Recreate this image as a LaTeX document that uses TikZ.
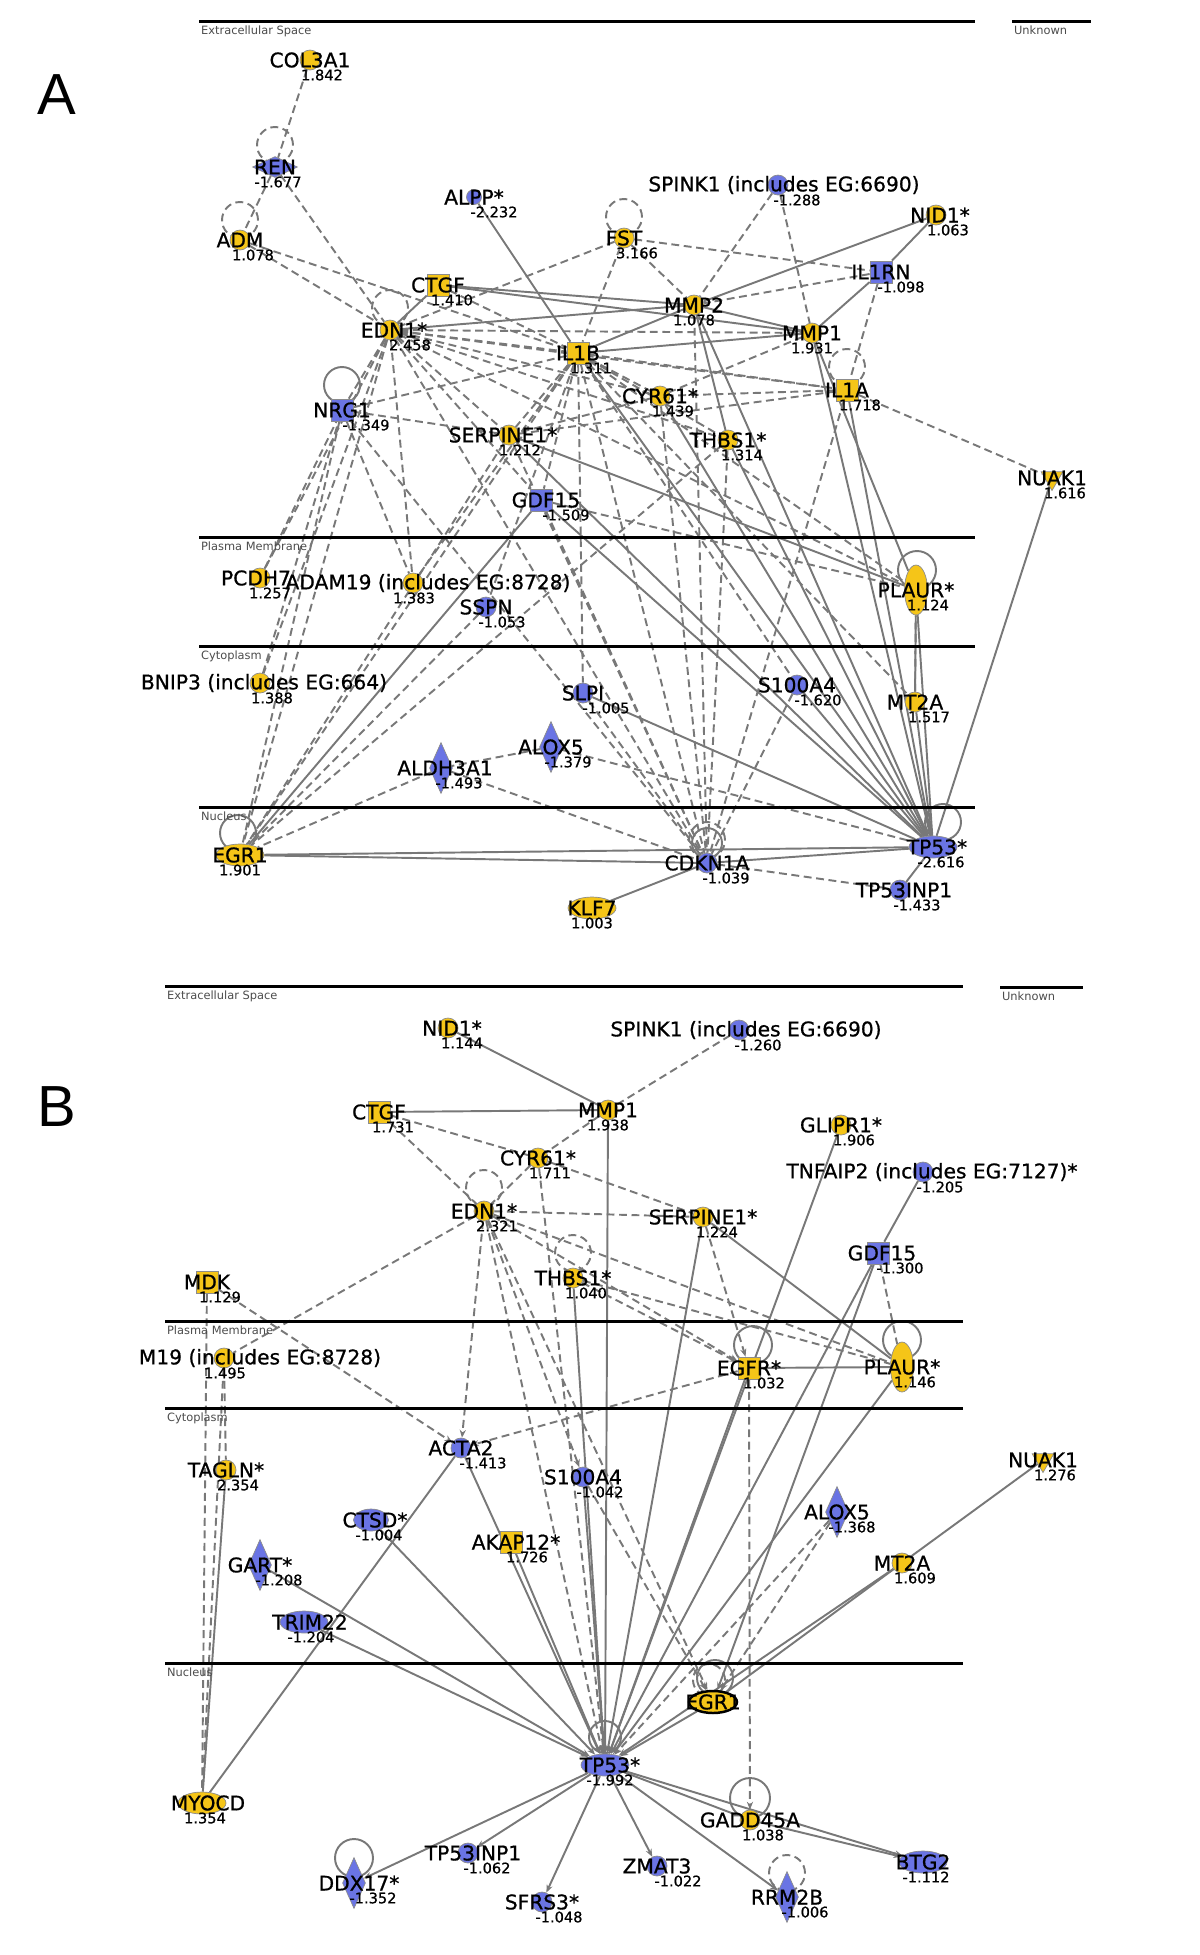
\documentclass[tikz,border=0pt]{standalone}
\usepackage{fontspec}
\setmainfont{DejaVu Sans}
\newfontfamily\genefont{DejaVu Sans}[FakeBold=0.8]
\newfontfamily\letterfont{Liberation Sans}
\usetikzlibrary{arrows.meta,shapes.geometric,backgrounds}
\definecolor{upreg}{RGB}{245,197,24}
\definecolor{downreg}{RGB}{106,116,228}
\definecolor{linkgray}{RGB}{120,120,120}

\begin{document}
\begin{tikzpicture}[x=0.02cm,y=-0.02cm,>={Stealth[length=4.5pt,width=3.5pt]},
  gene/.style={draw=black!45,line width=0.4pt,inner sep=0pt},
  up/.style={gene,fill=upreg},
  dn/.style={gene,fill=downreg},
  circ/.style={circle,minimum size=4mm},
  sm/.style={circle,minimum size=3mm},
  sq/.style={rectangle,minimum size=4.4mm},
  ellh/.style={ellipse,minimum width=9.6mm,minimum height=4.4mm},
  ellv/.style={ellipse,minimum width=4.6mm,minimum height=10mm},
  dmv/.style={diamond,minimum width=4.6mm,minimum height=10.2mm},
  dmh/.style={diamond,minimum width=9mm,minimum height=4.2mm},
  tri/.style={regular polygon,regular polygon sides=3,shape border rotate=180,minimum size=5mm},
  lbl/.style={font=\genefont\fontsize{11.5}{12}\selectfont,inner sep=0pt},
  val/.style={font=\genefont\fontsize{8.3}{9}\selectfont,inner sep=0pt},
  nl/.style={label={[lbl]center:#1}},
  nlx/.style 2 args={label={[lbl,xshift=#2*0.2mm]center:#1}},
  nv/.style 2 args={label={[val,xshift=#2*0.2mm,yshift=-3mm]center:#1}},
  lnk/.style={draw=linkgray,line width=1.1pt},
  ind/.style={lnk,dash pattern=on 4.5pt off 2.6pt},
  mem/.style={line width=1.7pt},
  comp/.style={font=\fontsize{6.5}{7}\selectfont,text=black!70,anchor=north west,inner sep=1pt},
  panel/.style={font=\letterfont\fontsize{33}{35}\selectfont}]
  \useasboundingbox (0,0) rectangle (1200,1955);

  % compartments, panel A
  \draw[mem] (199,21) -- (975,21);
  \draw[mem] (1012,21) -- (1091,21);
  \draw[mem] (199,537) -- (975,537);
  \draw[mem] (199,646) -- (975,646);
  \draw[mem] (199,807) -- (975,807);
  \node[comp] (aExtra) at (199,24) {Extracellular Space};
  \node[comp] (aUnknown) at (1012,24) {Unknown};
  \node[comp] (aPlasma) at (199,540) {Plasma Membrane};
  \node[comp] (aCyto) at (199,649) {Cytoplasm};
  \node[comp] (aNucl) at (199,810) {Nucleus};
  \node[panel] (pA) at (57,95) {A};

  % compartments, panel B
  \draw[mem] (165,986) -- (963,986);
  \draw[mem] (1000,987) -- (1083,987);
  \draw[mem] (165,1321) -- (963,1321);
  \draw[mem] (165,1408) -- (963,1408);
  \draw[mem] (165,1663) -- (963,1663);
  \node[comp] (bExtra) at (165,989) {Extracellular Space};
  \node[comp] (bUnknown) at (1000,990) {Unknown};
  \node[comp] (bPlasma) at (165,1324) {Plasma Membrane};
  \node[comp] (bCyto) at (165,1411) {Cytoplasm};
  \node[comp] (bNucl) at (165,1666) {Nucleus};
  \node[panel] (pB) at (57,1107) {B};

  % genes, panel A
  \node[up,circ,nl=COL3A1,nv={1.842}{12}] (aCOL3A1) at (310,60) {};
  \node[dn,dmh,nl=REN,nv={-1.677}{3}] (aREN) at (275,167) {};
  \node[dn,sm,nl=ALPP*,nv={-2.232}{20}] (aALPP) at (474,197) {};
  \node[dn,circ,nlx={SPINK1 (includes EG:6690)}{6},nv={-1.288}{19}] (aSPINK1) at (778,185) {};
  \node[up,circ,nlx={NID1*}{4},nv={1.063}{12}] (aNID1) at (936,215) {};
  \node[up,circ,nl=ADM,nv={1.078}{13}] (aADM) at (240,240) {};
  \node[up,circ,nl=FST,nv={3.166}{13}] (aFST) at (624,238) {};
  \node[up,sq,nl=CTGF,nv={1.410}{14}] (aCTGF) at (438,285) {};
  \node[up,circ,nlx={EDN1*}{4},nv={2.458}{20}] (aEDN1) at (390,330) {};
  \node[up,circ,nl=MMP2,nv={1.078}{0}] (aMMP2) at (694,305) {};
  \node[dn,sq,nl=IL1RN,nv={-1.098}{20}] (aIL1RN) at (881,272) {};
  \node[up,circ,nl=MMP1,nv={1.931}{0}] (aMMP1) at (812,333) {};
  \node[up,sq,nl=IL1B,nv={1.311}{13}] (aIL1B) at (578,353) {};
  \node[up,circ,nl=CYR61*,nv={1.439}{13}] (aCYR61) at (660,396) {};
  \node[up,sq,nl=IL1A,nv={1.718}{13}] (aIL1A) at (847,390) {};
  \node[dn,sq,nl=NRG1,nv={-1.349}{24}] (aNRG1) at (342,410) {};
  \node[up,circ,nlx={SERPINE1*}{-6},nv={1.212}{11}] (aSERPINE1) at (509,435) {};
  \node[up,circ,nl=THBS1*,nv={1.314}{14}] (aTHBS1) at (728,440) {};
  \node[up,tri,nl=NUAK1,nv={1.616}{13}] (aNUAK1) at (1052,478) {};
  \node[dn,sq,nlx={GDF15}{5},nv={-1.509}{25}] (aGDF15) at (541,500) {};
  \node[up,circ,nlx={PCDH7}{-4},nv={1.257}{10}] (aPCDH7) at (260,578) {};
  \node[up,circ,nlx={ADAM19 (includes EG:8728)}{15},nv={1.383}{1}] (aADAM19) at (413,583) {};
  \node[dn,circ,nl=SSPN,nv={-1.053}{16}] (aSSPN) at (486,607) {};
  \node[up,ellv,nl=PLAUR*,nv={1.124}{12}] (aPLAUR) at (916,590) {};
  \node[up,circ,nlx={BNIP3 (includes EG:664)}{4},nv={1.388}{12}] (aBNIP3) at (260,683) {};
  \node[dn,circ,nl=SLPI,nv={-1.005}{23}] (aSLPI) at (583,693) {};
  \node[dn,circ,nl=S100A4,nv={-1.620}{21}] (aS100A4) at (797,685) {};
  \node[up,circ,nl=MT2A,nv={1.517}{14}] (aMT2A) at (915,702) {};
  \node[dn,dmv,nl=ALOX5,nv={-1.379}{17}] (aALOX5) at (551,747) {};
  \node[dn,dmv,nlx={ALDH3A1}{4},nv={-1.493}{18}] (aALDH3A1) at (441,768) {};
  \node[up,ellh,nl=EGR1,nv={1.901}{0}] (aEGR1) at (240,855) {};
  \node[dn,circ,nl=CDKN1A,nv={-1.039}{19}] (aCDKN1A) at (707,863) {};
  \node[dn,ellh,nlx={TP53*}{4},nv={-2.616}{8}] (aTP53) at (933,847) {};
  \node[dn,circ,nlx={TP53INP1}{4},nv={-1.433}{17}] (aTP53INP1) at (900,890) {};
  \node[up,ellh,nl=KLF7,nv={1.003}{0}] (aKLF7) at (592,908) {};

  % genes, panel B
  \node[up,circ,nlx={NID1*}{4},nv={1.144}{14}] (bNID1) at (448,1028) {};
  \node[dn,circ,nlx={SPINK1 (includes EG:6690)}{7},nv={-1.260}{19}] (bSPINK1) at (739,1030) {};
  \node[up,sq,nl=CTGF,nv={1.731}{14}] (bCTGF) at (379,1112) {};
  \node[up,circ,nl=MMP1,nv={1.938}{0}] (bMMP1) at (608,1110) {};
  \node[up,circ,nl=GLIPR1*,nv={1.906}{13}] (bGLIPR1) at (841,1125) {};
  \node[up,circ,nl=CYR61*,nv={1.711}{12}] (bCYR61) at (538,1158) {};
  \node[dn,circ,nlx={TNFAIP2 (includes EG:7127)*}{9},nv={-1.205}{17}] (bTNFAIP2) at (923,1172) {};
  \node[up,circ,nl=EDN1*,nv={2.321}{13}] (bEDN1) at (484,1211) {};
  \node[up,circ,nl=SERPINE1*,nv={1.224}{14}] (bSERPINE1) at (703,1217) {};
  \node[dn,sq,nlx={GDF15}{4},nv={-1.300}{22}] (bGDF15) at (878,1253) {};
  \node[up,sq,nl=MDK,nv={1.129}{13}] (bMDK) at (207,1282) {};
  \node[up,circ,nl=THBS1*,nv={1.040}{13}] (bTHBS1) at (573,1278) {};
  \node[up,circ,nlx={M19 (includes EG:8728)}{36},nv={1.495}{1}] (bADAM19) at (224,1358) {};
  \node[up,sq,nl=EGFR*,nv={1.032}{15}] (bEGFR) at (749,1368) {};
  \node[up,ellv,nl=PLAUR*,nv={1.146}{13}] (bPLAUR) at (902,1367) {};
  \node[dn,circ,nl=ACTA2,nv={-1.413}{22}] (bACTA2) at (461,1448) {};
  \node[up,circ,nl=TAGLN*,nv={2.354}{12}] (bTAGLN) at (226,1470) {};
  \node[dn,circ,nl=S100A4,nv={-1.042}{17}] (bS100A4) at (583,1477) {};
  \node[up,tri,nl=NUAK1,nv={1.276}{12}] (bNUAK1) at (1043,1460) {};
  \node[dn,dmv,nl=ALOX5,nv={-1.368}{15}] (bALOX5) at (837,1512) {};
  \node[dn,ellipse,minimum width=7mm,minimum height=4.4mm,nlx={CTSD*}{4},nv={-1.004}{8}] (bCTSD) at (371,1520) {};
  \node[up,sq,nlx={AKAP12*}{5},nv={1.726}{16}] (bAKAP12) at (511,1542) {};
  \node[dn,dmv,nl=GART*,nv={-1.208}{19}] (bGART) at (260,1565) {};
  \node[up,circ,nl=MT2A,nv={1.609}{13}] (bMT2A) at (902,1563) {};
  \node[dn,ellh,nlx={TRIM22}{6},nv={-1.204}{7}] (bTRIM22) at (304,1622) {};
  \node[up,ellh,draw=black,line width=1.4pt,nl=EGR1] (bEGR1) at (713,1702) {};
  \node[dn,ellh,nlx={TP53*}{5},nv={-1.992}{5}] (bTP53) at (605,1765) {};
  \node[up,ellh,nlx={MYOCD}{6},nv={1.354}{3}] (bMYOCD) at (202,1803) {};
  \node[up,circ,nl=GADD45A,nv={1.038}{13}] (bGADD45A) at (750,1820) {};
  \node[dn,circ,nlx={TP53INP1}{5},nv={-1.062}{19}] (bTP53INP1) at (468,1853) {};
  \node[dn,circ,nl=ZMAT3,nv={-1.022}{21}] (bZMAT3) at (657,1866) {};
  \node[dn,ellh,nl=BTG2,nv={-1.112}{3}] (bBTG2) at (923,1862) {};
  \node[dn,dmv,nlx={DDX17*}{5},nv={-1.352}{19}] (bDDX17) at (354,1883) {};
  \node[dn,dmv,nl=RRM2B,nv={-1.006}{18}] (bRRM2B) at (787,1897) {};
  \node[dn,circ,nl=SFRS3*,nv={-1.048}{17}] (bSFRS3) at (542,1902) {};

  \begin{scope}[on background layer]
  % panel A links
  \foreach \s/\t in {aCTGF/aEDN1,aCTGF/aMMP2,aCTGF/aMMP1,aEDN1/aMMP2,aALPP/aIL1B,aNID1/aMMP2,
      aNID1/aIL1RN,aIL1RN/aMMP1,aMMP2/aMMP1,aMMP2/aIL1B,aMMP1/aIL1B,aMMP2/aTP53,aMMP2/aTHBS1,
      aMMP1/aTP53,aIL1A/aTP53,aTHBS1/aTP53,aSERPINE1/aTP53,aSERPINE1/aPLAUR,aGDF15/aTP53,
      aGDF15/aEGR1,aIL1B/aTP53,aNUAK1/aTP53,aPLAUR/aTP53,aMT2A/aTP53,aPLAUR/aMT2A,aSLPI/aTP53,
      aS100A4/aTP53,aEGR1/aCDKN1A,aEGR1/aTP53,aCDKN1A/aTP53,aKLF7/aCDKN1A,aTP53/aTP53INP1,
      aMMP1/aPLAUR,aCYR61/aTP53}
    \draw[lnk] (\s) -- (\t);
  \foreach \s/\t in {aCOL3A1/aREN,aREN/aADM,aREN/aEDN1,aADM/aEDN1,aADM/aIL1B,aFST/aEDN1,
      aFST/aMMP2,aFST/aIL1B,aFST/aIL1RN,aSPINK1/aMMP2,aSPINK1/aMMP1,aIL1RN/aMMP2,aIL1RN/aIL1A,
      aCTGF/aIL1B,aEDN1/aIL1B,aEDN1/aMMP1,aEDN1/aIL1A,aEDN1/aCYR61,aEDN1/aTHBS1,aEDN1/aSERPINE1,
      aEDN1/aNRG1,aEDN1/aPCDH7,aEDN1/aBNIP3,aEDN1/aEGR1,aEDN1/aADAM19,aEDN1/aGDF15,aEDN1/aPLAUR,
      aEDN1/aCDKN1A,aIL1B/aIL1A,aIL1B/aCYR61,aIL1B/aTHBS1,aIL1B/aSERPINE1,aIL1B/aNRG1,
      aIL1B/aGDF15,aIL1B/aSSPN,aIL1B/aSLPI,aIL1B/aCDKN1A,aIL1B/aMT2A,aIL1B/aEGR1,aIL1B/aS100A4,
      aIL1B/aADAM19,aIL1A/aCYR61,aIL1A/aNUAK1,aIL1A/aCDKN1A,aIL1A/aSERPINE1,aMMP1/aCYR61,
      aCYR61/aCDKN1A,aCYR61/aSERPINE1,aTHBS1/aCDKN1A,aTHBS1/aEGR1,aSERPINE1/aEGR1,
      aSERPINE1/aCDKN1A,aNRG1/aEGR1,aNRG1/aADAM19,aNRG1/aCDKN1A,aNRG1/aSERPINE1,aGDF15/aCDKN1A,
      aGDF15/aPLAUR,aSLPI/aCDKN1A,aS100A4/aCDKN1A,aALOX5/aALDH3A1,aALOX5/aTP53,aALDH3A1/aEGR1,
      aALDH3A1/aCDKN1A,aCDKN1A/aTP53INP1,aMMP2/aCDKN1A,aPCDH7/aNRG1,aBNIP3/aNRG1,aSSPN/aEGR1,
      aMT2A/aPLAUR,aIL1B/aPLAUR}
    \draw[ind] (\s) -- (\t);
  \draw[ind] (aREN) ++(0,-22) circle[radius=3.6mm];
  \draw[ind] (aADM) ++(0,-20) circle[radius=3.6mm];
  \draw[ind] (aFST) ++(0,-21) circle[radius=3.6mm];
  \draw[ind] (aEDN1) ++(0,-22) circle[radius=3.6mm];
  \draw[ind] (aIL1A) ++(0,-23) circle[radius=3.6mm];
  \draw[lnk] (aNRG1) ++(0,-25) circle[radius=3.6mm];
  \draw[lnk] (aPLAUR) ++(1,-20) circle[radius=3.8mm];
  \draw[lnk] (aEGR1) ++(-2,-22) circle[radius=3.6mm];
  \draw[ind] (aCDKN1A) ++(0,-23) circle[radius=3.6mm];
  \draw[lnk] (aCDKN1A) ++(0,-20) circle[radius=3mm];
  \draw[lnk] (aTP53) ++(10,-25) circle[radius=3.6mm];

  % panel B links
  \foreach \s/\t in {bNID1/bMMP1,bCTGF/bMMP1,bTAGLN/bMYOCD,bACTA2/bMYOCD,bSERPINE1/bPLAUR,
      bTNFAIP2/bGDF15,bEGFR/bPLAUR,bNUAK1/bMT2A,bMT2A/bEGR1}
    \draw[lnk] (\s) -- (\t);
  \foreach \s/\t in {bMMP1/bTP53,bACTA2/bTP53,bAKAP12/bTP53,bS100A4/bTP53,bCTSD/bTP53,
      bGART/bTP53,bTRIM22/bTP53,bTHBS1/bTP53,bSERPINE1/bTP53,bGLIPR1/bTP53,bGDF15/bTP53,
      bEGFR/bTP53,bPLAUR/bTP53,bMT2A/bTP53,bEGR1/bTP53,bTP53/bGADD45A,bTP53/bBTG2,bTP53/bZMAT3,
      bTP53/bRRM2B,bTP53/bSFRS3,bTP53/bTP53INP1,bTP53/bDDX17,bGADD45A/bBTG2,bGDF15/bEGR1}
    \draw[lnk,->] (\s) -- (\t);
  \foreach \s/\t in {bSPINK1/bMMP1,bCTGF/bCYR61,bCTGF/bEDN1,bMMP1/bCYR61,bCYR61/bEDN1,
      bCYR61/bSERPINE1,bEDN1/bSERPINE1,bEDN1/bADAM19,bMDK/bMYOCD,bADAM19/bTAGLN,bADAM19/bMYOCD,
      bGDF15/bPLAUR,bEDN1/bPLAUR,bTHBS1/bPLAUR}
    \draw[ind] (\s) -- (\t);
  \foreach \s/\t in {bCYR61/bTP53,bEDN1/bTP53,bEDN1/bACTA2,bEDN1/bEGR1,bEDN1/bS100A4,
      bEDN1/bEGFR,bMDK/bACTA2,bTHBS1/bEGFR,bSERPINE1/bEGFR,bEGFR/bACTA2,bEGFR/bGADD45A,
      bALOX5/bEGR1,bALOX5/bTP53,bS100A4/bEGR1}
    \draw[ind,->] (\s) -- (\t);
  \draw[ind] (bEDN1) ++(0,-23) circle[radius=3.6mm];
  \draw[ind] (bTHBS1) ++(0,-25) circle[radius=3.6mm];
  \draw[lnk] (bEGFR) ++(4,-23) circle[radius=3.8mm];
  \draw[lnk] (bPLAUR) ++(0,-27) circle[radius=3.8mm];
  \draw[lnk] (bEGR1) ++(2,-24) circle[radius=3.6mm];
  \draw[ind] (bEGR1) ++(-4,-22) circle[radius=3.2mm];
  \draw[lnk] (bTP53) ++(0,-28) circle[radius=3.2mm];
  \draw[lnk] (bGADD45A) ++(0,-22) circle[radius=4mm];
  \draw[lnk] (bDDX17) ++(0,-25) circle[radius=3.8mm];
  \draw[ind] (bRRM2B) ++(0,-24) circle[radius=3.6mm];
  \end{scope}
\end{tikzpicture}
\end{document}
